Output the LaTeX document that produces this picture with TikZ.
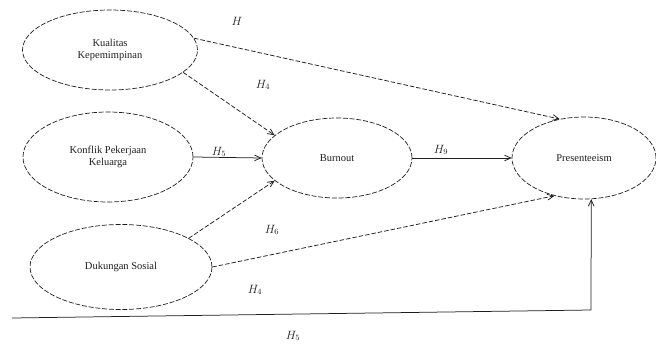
\documentclass[tikz,border=0pt]{standalone}
\usepackage{fontspec}
\setmainfont{Liberation Serif}
\usetikzlibrary{arrows.meta,shapes.geometric}
\definecolor{ink}{HTML}{1E1E1E}
\tikzset{
  var/.style={ellipse,draw=ink,line width=.7pt,dash pattern=on 5pt off 1.8pt,inner sep=0pt,align=center,font=\fontsize{10.5}{12.5}\selectfont,text=ink},
  ar/.style={-{Straight Barb[length=2.2mm,width=2mm]},draw=ink,line width=.75pt},
  ard/.style={ar,dash pattern=on 4.5pt off 2pt},
  hyp/.style={font=\fontsize{12}{14}\selectfont,text=ink},
}
\begin{document}
\begin{tikzpicture}[x=1pt,y=-1pt]
\useasboundingbox (0,0) rectangle (656,347);
% constructs
\node[var,minimum width=175pt,minimum height=80pt] (kk) at (110,50) {Kualitas\\Kepemimpinan};
\node[var,minimum width=170pt,minimum height=90pt] (kpk) at (108,157) {Konflik Pekerjaan\\Keluarga};
\node[var,minimum width=182pt,minimum height=85pt] (ds) at (121,267) {Dukungan Sosial};
\node[var,minimum width=150pt,minimum height=80pt] (bo) at (337,158) {Burnout};
\node[var,minimum width=144pt,minimum height=82pt] (pr) at (584,158) {Presenteeism};
% paths
\draw[ard] (kk.8) -- (pr.122);
\draw[ard] (kk.-17) -- (bo.160);
\draw[ar] (kpk.east) -- (bo.west);
\draw[ard] (ds.23) -- (bo.200);
\draw[ar] (bo.east) -- (pr.west);
\draw[ard] (ds.east) -- (pr.232);
\coordinate (base) at (12,318);
\coordinate (bend) at (591,310);
\draw[ar] (base) -- (bend) -- (pr.280);
% labels
\node[hyp] (h0) at (237,21) {$H$};
\node[hyp] (h4) at (263,85) {$H_4$};
\node[hyp] (h5) at (219,152) {$H_5$};
\node[hyp] (h6) at (272,230) {$H_6$};
\node[hyp] (h9) at (441,150) {$H_9$};
\node[hyp] (h8) at (255,290) {$H_4$};
\node[hyp] (h3) at (293,336) {$H_5$};
\end{tikzpicture}
\end{document}
